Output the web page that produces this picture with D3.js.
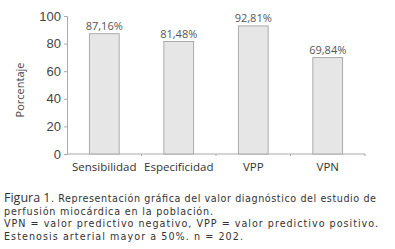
<!DOCTYPE html>
<html>
<head>
<meta charset="utf-8">
<script src="https://cdnjs.cloudflare.com/ajax/libs/d3/7.8.5/d3.min.js"></script>
<style>
  body { margin: 0; background: #fff; }
  svg { display: block; font-family: "Open Sans", sans-serif; }
</style>
</head>
<body>
<div id="chart"></div>
<script>
// Chart data
const categories = ["Sensibilidad", "Especificidad", "VPP", "VPN"];
const values = [87.16, 81.48, 92.81, 69.84];
const valueLabels = ["87,16%", "81,48%", "92,81%", "69,84%"];
const yTicks = [0, 20, 40, 60, 80, 100];
const yTitle = "Porcentaje";
const figLabel = "Figura 1";
const captionLines = [
    ". Representación gráfica del valor diagnóstico del estudio de",
    "perfusión miocárdica en la población.",
    "VPN = valor predictivo negativo, VPP = valor predictivo positivo.",
    "Estenosis arterial mayor a 50%.  n = 202."
];

const W = 395, H = 249;
const MARGIN = { LEFT: 67, RIGHT: 30, TOP: 16, BOTTOM: 95 };
const WIDTH = W - MARGIN.LEFT - MARGIN.RIGHT;
const HEIGHT = H - MARGIN.TOP - MARGIN.BOTTOM;

const svg = d3.select("#chart").append("svg")
    .attr("width", W)
    .attr("height", H);

const g = svg.append("g")
    .attr("transform", `translate(${MARGIN.LEFT}, ${MARGIN.TOP})`);

// Scales
const x = d3.scaleBand().domain(categories).range([0, WIDTH]).paddingInner(0.6).paddingOuter(0.3);
const y = d3.scaleLinear().domain([0, 100]).range([HEIGHT, 0]);

// Y axis
const yAxis = g.append("g")
    .call(d3.axisLeft(y).tickValues(yTicks).tickSize(3).tickPadding(3));
yAxis.select(".domain").attr("stroke", "#aaa");
yAxis.selectAll(".tick line").attr("stroke", "#aaa");
yAxis.selectAll(".tick text").attr("font-size", 13).attr("fill", "#444");

// X axis: line with small ticks at band edges
g.append("line")
    .attr("x1", 0).attr("x2", WIDTH)
    .attr("y1", HEIGHT).attr("y2", HEIGHT)
    .attr("stroke", "#aaa");
g.selectAll(".xtick")
    .data(d3.range(1, categories.length + 1))
    .join("line")
    .attr("class", "xtick")
    .attr("x1", d => d * WIDTH / categories.length)
    .attr("x2", d => d * WIDTH / categories.length)
    .attr("y1", HEIGHT).attr("y2", HEIGHT + 2)
    .attr("stroke", "#aaa");

g.selectAll(".xlabel")
    .data(categories)
    .join("text")
    .attr("class", "xlabel")
    .attr("x", d => x(d) + x.bandwidth() / 2)
    .attr("y", HEIGHT + 17)
    .attr("text-anchor", "middle")
    .attr("font-size", 11.5)
    .attr("fill", "#333")
    .text(d => d);

// Bars
g.selectAll(".bar")
    .data(values)
    .join("rect")
    .attr("class", "bar")
    .attr("x", (d, i) => x(categories[i]))
    .attr("y", d => y(d))
    .attr("width", x.bandwidth())
    .attr("height", d => HEIGHT - y(d))
    .attr("fill", "#e6e6e6")
    .attr("stroke", "#9a9a9a")
    .attr("stroke-width", 0.8);

// Value labels
g.selectAll(".vlabel")
    .data(values)
    .join("text")
    .attr("class", "vlabel")
    .attr("x", (d, i) => x(categories[i]) + x.bandwidth() / 2)
    .attr("y", d => y(d) - 4)
    .attr("text-anchor", "middle")
    .attr("font-size", 11)
    .attr("fill", "#555")
    .text((d, i) => valueLabels[i]);

// Y title
svg.append("text")
    .attr("transform", "translate(24, 90) rotate(-90)")
    .attr("text-anchor", "middle")
    .attr("font-size", 11)
    .attr("fill", "#444")
    .text(yTitle);

// Caption (justified lines stretched to the widths seen in the figure)
const cap = svg.append("g")
    .attr("fill", "#333")
    .attr("font-family", "'DejaVu Sans', sans-serif")
    .attr("font-size", 9.6);
cap.append("text").attr("x", 4).attr("y", 202)
    .attr("font-family", "'Open Sans', sans-serif")
    .attr("font-size", 12.5).text(figLabel);
cap.append("text").attr("x", 51).attr("y", 202)
    .attr("textLength", 325).attr("lengthAdjust", "spacing")
    .text(captionLines[0]);
cap.append("text").attr("x", 4).attr("y", 214.5)
    .attr("textLength", 209).attr("lengthAdjust", "spacing")
    .text(captionLines[1]);
cap.append("text").attr("x", 4).attr("y", 227)
    .attr("textLength", 374).attr("lengthAdjust", "spacing")
    .text(captionLines[2]);
cap.append("text").attr("x", 4).attr("y", 239.5)
    .attr("textLength", 239).attr("lengthAdjust", "spacing")
    .text(captionLines[3]);
</script>
</body>
</html>
